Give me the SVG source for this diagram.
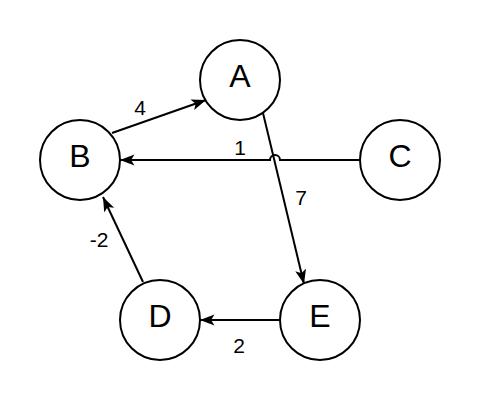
<svg xmlns="http://www.w3.org/2000/svg" width="480" height="420" viewBox="0 0 480 420">
<style>
.node circle{fill:#fff;stroke:#000;stroke-width:2}
.node text{font-family:"Liberation Sans",Arial,sans-serif;font-size:32px;fill:#000;text-anchor:middle}
.edge{fill:none;stroke:#000;stroke-width:2}
.lbl{font-family:"Liberation Sans",Arial,sans-serif;font-size:21px;fill:#000;text-anchor:middle}
</style>
<defs>
<marker id="arr" viewBox="0 0 15 12" refX="14.5" refY="6" markerWidth="15" markerHeight="12" markerUnits="userSpaceOnUse" orient="auto">
<path d="M14.5,6 L0,0.5 L3.5,6 L0,11.5 Z" fill="#000"/>
</marker>
</defs>
<rect width="480" height="420" fill="#fff"/>
<g id="connectors">
<path class="edge" d="M112,133 L206,100" marker-end="url(#arr)"/>
<path class="edge" d="M360,160 L280,160 A5,5 0 0 0 270,160 L120,160" marker-end="url(#arr)"/>
<path class="edge" d="M263,113 L304,284" marker-end="url(#arr)"/>
<path class="edge" d="M143,282 L103,197" marker-end="url(#arr)"/>
<path class="edge" d="M280,320 L200,320" marker-end="url(#arr)"/>
<text class="lbl" x="140" y="115">4</text>
<text class="lbl" x="240" y="155">1</text>
<text class="lbl" x="301" y="205">7</text>
<text class="lbl" x="99" y="247">-2</text>
<text class="lbl" x="239" y="353">2</text>
</g>
<g id="node-A" class="node"><circle cx="240" cy="80" r="40"/><text x="240" y="87">A</text></g>
<g id="node-B" class="node"><circle cx="80" cy="160" r="40"/><text x="80" y="167">B</text></g>
<g id="node-C" class="node"><circle cx="400" cy="160" r="40"/><text x="400" y="167">C</text></g>
<g id="node-D" class="node"><circle cx="160" cy="320" r="40"/><text x="160" y="327">D</text></g>
<g id="node-E" class="node"><circle cx="320" cy="320" r="40"/><text x="320" y="327">E</text></g>
</svg>
